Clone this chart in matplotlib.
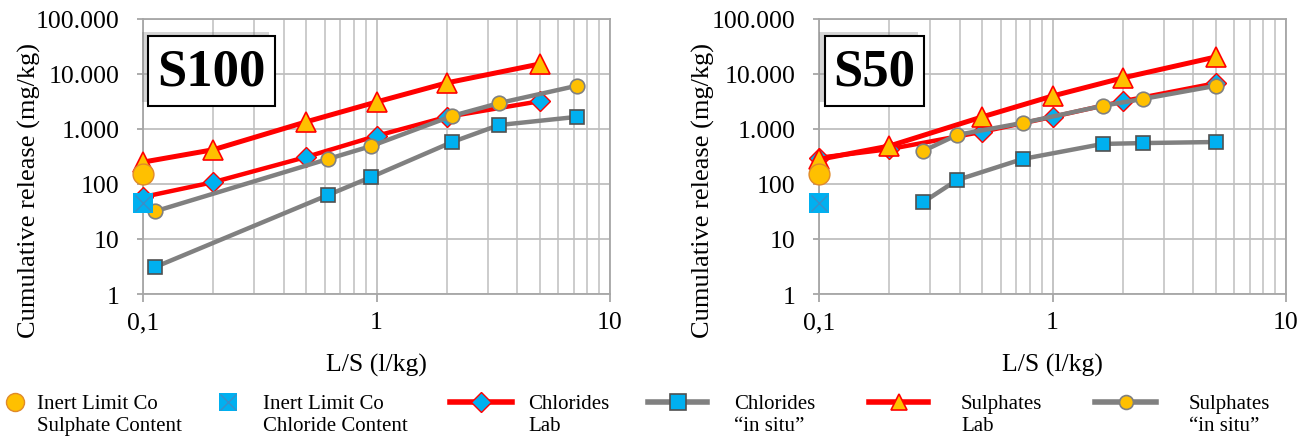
import matplotlib
matplotlib.use("Agg")
import matplotlib.pyplot as plt
from matplotlib.patches import Rectangle
from matplotlib.lines import Line2D
from matplotlib.ticker import FixedLocator, FuncFormatter, NullFormatter
from matplotlib.legend_handler import HandlerLine2D, HandlerTuple
from matplotlib.transforms import Affine2D
import matplotlib.patheffects as pe

plt.rcParams['font.family'] = ['Liberation Serif', 'DejaVu Serif']

# ---------------- data ----------------
lab_x = [0.1, 0.2, 0.5, 1, 2, 5]

# S100
s100_cl_lab = [58, 108, 310, 750, 1660, 3200]
s100_so4_lab = [250, 420, 1350, 3100, 6900, 15200]
s100_situ_x = [0.113, 0.62, 0.95, 2.11, 3.35, 7.2]
s100_cl_situ = [3.1, 63, 134, 580, 1180, 1660]
s100_so4_situ = [32, 285, 490, 1730, 2960, 6100]

# S50
s50_cl_lab = [300, 430, 890, 1660, 3200, 6800]
s50_so4_lab = [280, 490, 1660, 3980, 8500, 20400]
s50_situ_x = [0.28, 0.39, 0.745, 1.64, 2.45, 5.0]
s50_cl_situ = [47, 118, 285, 535, 555, 580]
s50_so4_situ = [400, 780, 1290, 2640, 3530, 6100]

# inert limits
inert_x = [0.1]
inert_so4 = [150]
inert_cl = [45]

panels = ["S100", "S50"]
y_ticks = [1, 10, 100, 1000, 10000, 100000]
y_ticklabels = ["1", "10", "100", "1.000", "10.000", "100.000"]
x_ticks = [0.1, 1, 10]
x_ticklabels = ["0,1", "1", "10"]
legend_labels = ["Inert Limit Co\nSulphate Content", "Inert Limit Co\nChloride Content",
                 "Chlorides\nLab", "Chlorides\n\u201cin situ\u201d",
                 "Sulphates\nLab", "Sulphates\n\u201cin situ\u201d"]

# ---------------- style ----------------
ORANGE = "#FFC000"
BLUE = "#00B0F0"
RED = "#FF0000"
GREY = "#808080"
GRID = "#BFBFBF"
AXC = "#A6A6A6"

W, H = 1312, 439
fig = plt.figure(figsize=(W / 100, H / 100), dpi=100)

ax_rects = [(143, 610), (819, 1286)]
ytop, ybot = 20, 295
box_px = [(148, 275), (825, 924)]
ylabel_x = [-0.243, -0.248]

data = [
    (s100_cl_lab, s100_so4_lab, s100_situ_x, s100_cl_situ, s100_so4_situ),
    (s50_cl_lab, s50_so4_lab, s50_situ_x, s50_cl_situ, s50_so4_situ),
]

for i, ((x0, x1), (cl_lab, so4_lab, sx, cl_situ, so4_situ)) in enumerate(zip(ax_rects, data)):
    ax = fig.add_axes([x0 / W, 1 - ybot / H, (x1 - x0) / W, (ybot - ytop) / H])
    ax.set_xscale("log")
    ax.set_yscale("log")
    ax.set_xlim(0.1, 10)
    ax.set_ylim(1, 100000)

    ax.xaxis.set_major_locator(FixedLocator(x_ticks))
    ax.xaxis.set_major_formatter(FuncFormatter(lambda v, p: x_ticklabels[x_ticks.index(v)] if v in x_ticks else ""))
    ax.xaxis.set_minor_locator(FixedLocator([m * d for d in (0.1, 1) for m in range(2, 10)]))
    ax.xaxis.set_minor_formatter(NullFormatter())
    ax.yaxis.set_major_locator(FixedLocator(y_ticks))
    ax.set_yticklabels(y_ticklabels)
    ax.yaxis.set_minor_locator(FixedLocator([]))

    ax.grid(True, which="major", axis="both", color=GRID, lw=1.3)
    ax.grid(True, which="minor", axis="x", color=GRID, lw=1.1)
    ax.set_axisbelow(True)
    for s in ax.spines.values():
        s.set_color(AXC)
        s.set_linewidth(1.3)
    ax.tick_params(axis="y", which="major", length=4.6, width=1.3, color=AXC,
                   labelsize=18.5, pad=12.5)
    ax.tick_params(axis="x", which="major", length=5.8, width=1.3, color=AXC,
                   labelsize=18.5, pad=6.5)
    ax.tick_params(axis="both", which="minor", length=0)

    ax.plot(lab_x, cl_lab, color=RED, lw=3.2, marker="D", ms=10, mfc=BLUE, mec=RED,
            mew=1, zorder=3, clip_on=False)
    ax.plot(sx, cl_situ, color=GREY, lw=3.2, marker="s", ms=10, mfc=BLUE, mec="#505050",
            mew=1.2, zorder=4, clip_on=False)
    ax.plot(lab_x, so4_lab, color=RED, lw=3.6, marker="^", ms=14, mfc=ORANGE, mec=RED,
            mew=1.2, zorder=5, clip_on=False)
    ax.plot(sx, so4_situ, color=GREY, lw=3.2, marker="o", ms=10.5, mfc=ORANGE, mec=GREY,
            mew=1.2, zorder=6, clip_on=False)
    ax.plot(inert_x, inert_so4, ls="none", marker="o", ms=15, mfc=ORANGE, mec="#E08A2A",
            mew=1, zorder=7, clip_on=False)
    ax.plot(inert_x, inert_cl, ls="none", marker="s", ms=14, mfc=BLUE, mec=BLUE,
            mew=0, zorder=8, clip_on=False)
    ax.plot(inert_x, inert_cl, ls="none", marker="x", ms=12, mec="#3A8FC8",
            mew=1, zorder=9, clip_on=False)

    ax.set_xlabel("L/S (l/kg)", fontsize=18.5, va="center")
    ax.xaxis.set_label_coords(0.5, (ybot - 365) / (ybot - ytop))
    ax.set_ylabel("Cumulative release (mg/kg)", fontsize=19, va="center")
    ax.yaxis.set_label_coords(ylabel_x[i], (ybot - 190) / (ybot - ytop))

    bx0, bx1 = box_px[i]
    by0, by1 = 37, 107
    rx = (bx0 - x0) / (x1 - x0)
    rw = (bx1 - bx0) / (x1 - x0)
    ry = (ybot - by1) / (ybot - ytop)
    rh = (by1 - by0) / (ybot - ytop)
    rect = Rectangle((rx, ry), rw, rh, transform=ax.transAxes, facecolor="white",
                     edgecolor="black", lw=1.5, zorder=10, clip_on=False)
    rect.set_path_effects([pe.SimplePatchShadow(offset=(-4, 3), shadow_rgbFace="#888888", alpha=0.35),
                           pe.Normal()])
    ax.add_patch(rect)
    ax.text(rx + rw / 2, ry + rh / 2, panels[i], transform=ax.transAxes, ha="center",
            va="center", fontsize=38, fontweight="bold", zorder=11)


# ---------------- legend ----------------
SHIFT = 12  # px: raise handles to the first text line


class UpLine(HandlerLine2D):
    def create_artists(self, legend, orig_handle, xd, yd, w, h, fs, trans):
        return super().create_artists(legend, orig_handle, xd, yd, w, h, fs,
                                      trans + Affine2D().translate(0, SHIFT))


handles = [
    Line2D([], [], ls="none", marker="o", ms=13, mfc=ORANGE, mec="#E08A2A", mew=1),
    (Line2D([], [], ls="none", marker="s", ms=13, mfc=BLUE, mec=BLUE, mew=0),
     Line2D([], [], ls="none", marker="x", ms=11, mec="#3A8FC8", mew=1)),
    Line2D([], [], color=RED, lw=4, marker="D", ms=10, mfc=BLUE, mec=RED, mew=1),
    Line2D([], [], color=GREY, lw=4, marker="s", ms=11, mfc=BLUE, mec="#505050", mew=1.2),
    Line2D([], [], color=RED, lw=4, marker="^", ms=11, mfc=ORANGE, mec=RED, mew=1.2),
    Line2D([], [], color=GREY, lw=4, marker="o", ms=10, mfc=ORANGE, mec=GREY, mew=1.2),
]
# (handle_left, handle_len, text_left) in px
leg_pos = [(0, 30, 37), (213, 30, 263), (450, 62, 528), (648, 59, 734), (869, 59, 961), (1095, 61, 1189)]
fs = 15
fs_px = fs * 100 / 72
hmap = {Line2D: UpLine(), tuple: HandlerTuple(ndivide=1)}
for h, lab, (hl, hlen, tl) in zip(handles, legend_labels, leg_pos):
    fig.legend([h], [lab], loc="upper left", bbox_to_anchor=(hl / W, 1 - 395 / H),
               frameon=False, fontsize=fs, borderpad=0, borderaxespad=0,
               handlelength=hlen / fs_px, handletextpad=(tl - hl - hlen) / fs_px,
               labelspacing=0, handler_map=hmap)

fig.savefig("out.png", dpi=100)
